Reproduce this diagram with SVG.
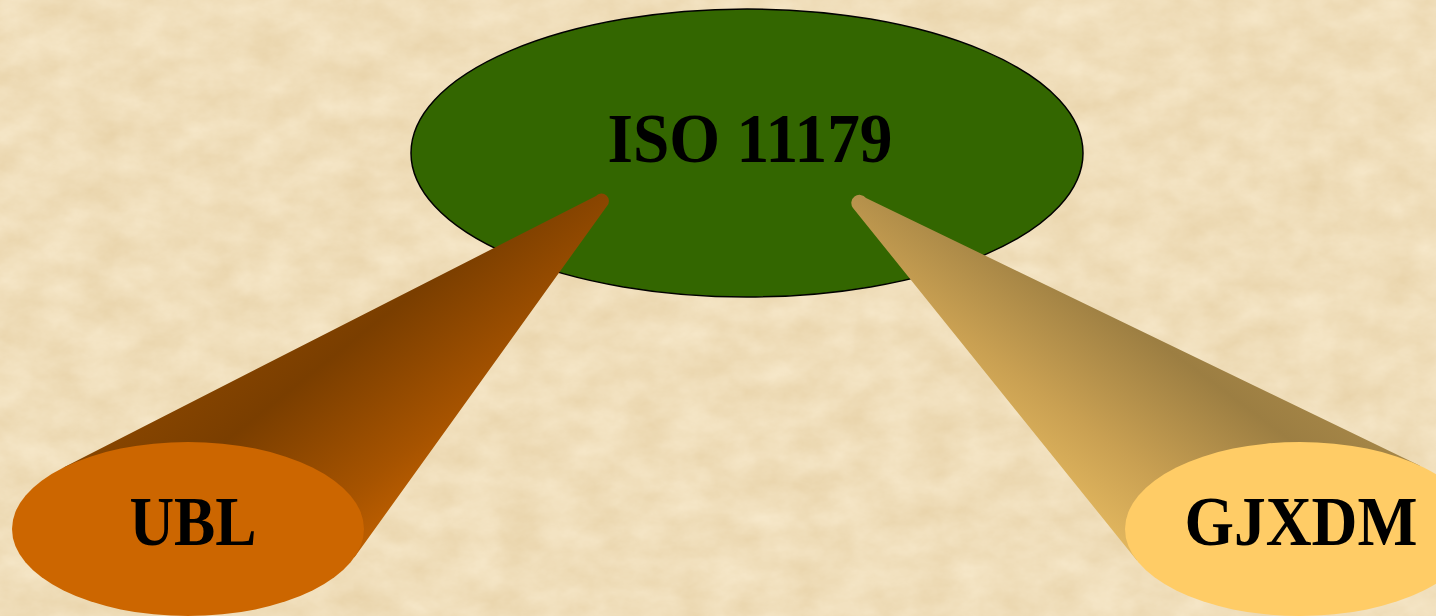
<svg xmlns="http://www.w3.org/2000/svg" width="1436" height="616" viewBox="0 0 1436 616">
  <defs>
    <!-- parchment texture for the backdrop -->
    <filter id="paper" x="0" y="0" width="1436" height="616" filterUnits="userSpaceOnUse" color-interpolation-filters="sRGB">
      <feTurbulence type="fractalNoise" baseFrequency="0.024 0.034" numOctaves="5" seed="11" result="noise"/>
      <feColorMatrix in="noise" type="matrix"
        values="0.06 0 0 0 0.91
                0.09 0 0 0 0.825
                0.14 0 0 0 0.66
                0 0 0 0 1"/>
    </filter>
    <!-- shading across the orange cone -->
    <linearGradient id="coneOrange" gradientUnits="userSpaceOnUse" x1="302" y1="247" x2="488" y2="483">
      <stop offset="0" stop-color="#8c4800"/>
      <stop offset="0.35" stop-color="#7a3e00"/>
      <stop offset="0.75" stop-color="#a65300"/>
      <stop offset="1" stop-color="#c86400"/>
    </linearGradient>
    <!-- shading across the gold cone -->
    <linearGradient id="coneGold" gradientUnits="userSpaceOnUse" x1="991" y1="486" x2="1169" y2="246">
      <stop offset="0" stop-color="#ebbf63"/>
      <stop offset="0.35" stop-color="#c9a052"/>
      <stop offset="0.72" stop-color="#9c7e42"/>
      <stop offset="1" stop-color="#aa8a4a"/>
    </linearGradient>
    <style>
      .label { font-family: "Liberation Serif", "Times New Roman", serif; font-weight: bold; font-size: 70px; fill: #000; text-anchor: middle; }
      .hub { fill: #336600; stroke: #000; stroke-width: 1.5; }
    </style>
  </defs>

  <rect x="0" y="0" width="1436" height="616" fill="#f0e0c0"/>
  <rect x="0" y="0" width="1436" height="616" filter="url(#paper)"/>

  <g id="iso11179">
    <ellipse class="hub" cx="747" cy="153" rx="336" ry="144"/>
    <text class="label" x="750" y="162" textLength="285" lengthAdjust="spacingAndGlyphs">ISO 11179</text>
  </g>

  <!-- cone bodies linking the outer standards to the hub -->
  <g id="connectors">
    <path d="M63.5,467.5 L596,196 A7,7 0 0 1 607,206 L354.5,557.3 Z" fill="url(#coneOrange)"/>
    <path d="M1136.7,560.3 L853,208 A7,7 0 0 1 866,198 L1420,465.7 Z" fill="url(#coneGold)"/>
  </g>

  <g id="ubl">
    <ellipse cx="188" cy="529" rx="176" ry="87" fill="#cc6600"/>
    <text class="label" x="193" y="545" textLength="127" lengthAdjust="spacingAndGlyphs">UBL</text>
  </g>

  <g id="gjxdm">
    <ellipse cx="1300" cy="529" rx="175" ry="87" fill="#ffcc66"/>
    <text class="label" x="1301" y="545" textLength="233" lengthAdjust="spacingAndGlyphs">GJXDM</text>
  </g>
</svg>
